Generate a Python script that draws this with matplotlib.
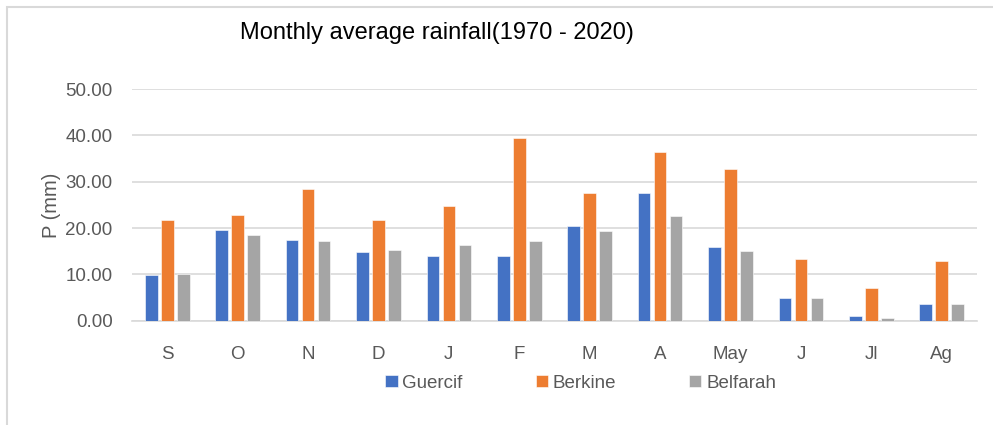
import matplotlib.pyplot as plt
import matplotlib.patches as mpatches
import numpy as np

months = ["S", "O", "N", "D", "J", "F", "M", "A", "May", "J", "Jl", "Ag"]
guercif = [9.8, 19.6, 17.5, 14.8, 13.9, 13.9, 20.4, 27.6, 16.0, 4.9, 1.1, 3.5]
berkine = [21.8, 22.8, 28.4, 21.8, 24.7, 39.4, 27.6, 36.3, 32.7, 13.4, 7.1, 12.9]
belfarah = [10.0, 18.5, 17.3, 15.3, 16.3, 17.3, 19.4, 22.6, 15.0, 4.9, 0.6, 3.7]

series = [("Guercif", guercif, "#4472C4"),
          ("Berkine", berkine, "#ED7D31"),
          ("Belfarah", belfarah, "#A5A5A5")]

plt.rcParams['font.family'] = ['Liberation Sans', 'DejaVu Sans']
txt = "#595959"

fig = plt.figure(figsize=(9.93, 4.25), dpi=100)
# outer chart frame like the Excel box
fig.patches.append(mpatches.Rectangle((7 / 993, -0.01), 1.0, 1 - 7 / 425 + 0.01,
                                      transform=fig.transFigure, fill=False,
                                      edgecolor="#D9D9D9", linewidth=1.5))

ax = fig.add_axes([132 / 993, 1 - 320.7 / 425, 845 / 993, 231.7 / 425])
x = np.arange(len(months))
w = 0.18
step = 0.227
for i, (name, vals, col) in enumerate(series):
    ax.bar(x + (i - 1) * step, vals, w, color=col, edgecolor="white",
           linewidth=0.4, label=name, zorder=3)

ax.set_xlim(-0.5, len(months) - 0.5)
ax.set_ylim(0, 50)
ax.set_yticks(np.arange(0, 51, 10))
ax.set_yticklabels([f"{v:.2f}" for v in range(0, 51, 10)])
ax.set_xticks(x)
ax.set_xticklabels(months)
ax.tick_params(length=0, labelsize=13.5, colors=txt)
ax.tick_params(axis="x", pad=18)
ax.tick_params(axis="y", pad=14)
ax.grid(axis="y", color="#D9D9D9", linewidth=1.2, zorder=0)
for s in ["top", "right", "left"]:
    ax.spines[s].set_visible(False)
ax.spines["bottom"].set_color("#D9D9D9")
ax.spines["bottom"].set_linewidth(1.2)

ax.set_ylabel("P (mm)", fontsize=14.5, color=txt, labelpad=3)
fig.text(437 / 993, 1 - 33 / 425, "Monthly average rainfall(1970 - 2020)",
         fontsize=17, ha="center", va="center", color="black")

ax.legend(loc="center", bbox_to_anchor=(0.531, (320.7 - 383) / 231.7),
          ncol=3, frameon=False, fontsize=13.5, labelcolor=txt,
          handlelength=0.65, handleheight=0.65, handletextpad=0.25, columnspacing=3.9)

fig.savefig("out.png", dpi=100)
